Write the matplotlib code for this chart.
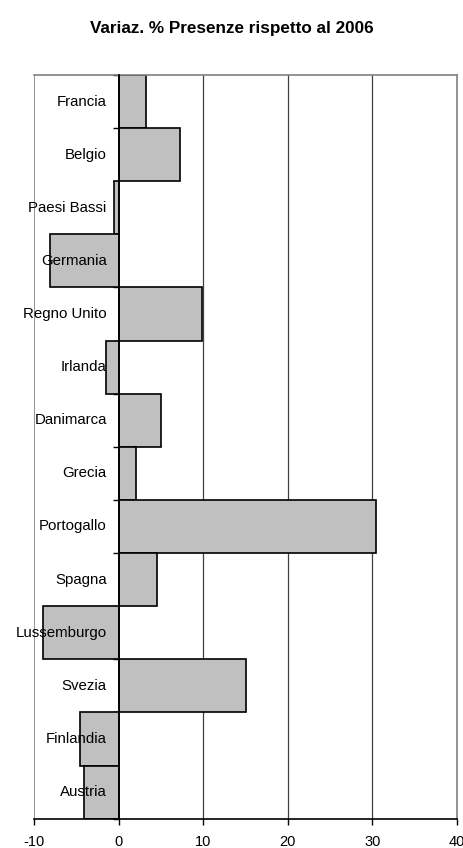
import numpy as np
import matplotlib
matplotlib.use("Agg")
import matplotlib.pyplot as plt

plt.rcParams['font.family'] = ['Liberation Sans', 'DejaVu Sans']

# data
paesi = ["Francia", "Belgio", "Paesi Bassi", "Germania", "Regno Unito", "Irlanda",
         "Danimarca", "Grecia", "Portogallo", "Spagna", "Lussemburgo", "Svezia",
         "Finlandia", "Austria"]
variaz = [3.2, 7.2, -0.6, -8.1, 9.8, -1.45, 5.0, 2.1, 30.4, 4.5, -8.9, 15.0, -4.6, -4.1]
x_ticks = [-10, 0, 10, 20, 30, 40]

fig = plt.figure(figsize=(4.64, 8.48), dpi=100)
ax = fig.add_axes([0.0733, 0.0346, 0.9117, 0.877])

pos = np.arange(len(paesi))
ax.barh(pos, variaz, height=1.0, color="#c0c0c0", edgecolor="black", linewidth=1.2, zorder=2)

# vertical gridlines behind bars
for t in x_ticks[2:-1]:
    ax.axvline(t, color="#404040", linewidth=0.9, zorder=0)

ax.set_xlim(-10, 40)
ax.set_ylim(len(paesi) - 0.5, -0.5)
ax.set_xticks(x_ticks)
ax.set_xticklabels([str(t) for t in x_ticks], fontsize=10.5)
ax.tick_params(axis="x", direction="out", length=4, width=1, color="black", pad=8)

# category axis sits at zero
ax.spines['left'].set_position(('data', 0))
ax.spines['left'].set_color("black")
ax.spines['left'].set_linewidth(1.2)
ax.spines['left'].set_zorder(3)
ax.set_yticks(np.arange(len(paesi) + 1) - 0.5)
ax.set_yticklabels([])
ax.tick_params(axis="y", direction="out", length=4, width=1, color="black")
for p, nome in zip(pos, paesi):
    ax.annotate(nome, xy=(0, p), xycoords="data", xytext=(-8.6, 0), textcoords="offset points",
                ha="right", va="center", fontsize=10.8, zorder=4)

# grey frame
ax.axvline(-10, color="#808080", linewidth=1.2, zorder=0)
for s in ["top", "right"]:
    ax.spines[s].set_color("#808080")
    ax.spines[s].set_linewidth(1.2)
ax.spines['bottom'].set_color("black")
ax.spines['bottom'].set_linewidth(1.2)

fig.text(0.5, 1 - 28 / 848, "Variaz. % Presenze rispetto al 2006", ha="center", va="center",
         fontsize=12.3, fontweight="bold")

fig.savefig("out.png", dpi=100)
